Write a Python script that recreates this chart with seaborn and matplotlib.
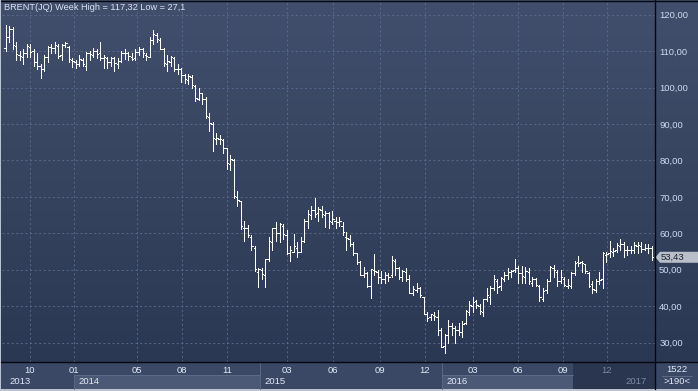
import matplotlib
matplotlib.use("Agg")
import numpy as np
import pandas as pd
import matplotlib.pyplot as plt
import seaborn as sns
from matplotlib.colors import LinearSegmentedColormap
from matplotlib.patches import Rectangle, Polygon

# ---------------- data (weekly OHLC) ----------------
title = "BRENT(JQ) Week High = 117,32 Low = 27,1"

opens = [
    110.8, 114.0, 116.0, 111.5, 109.0, 108.5, 109.5, 111.0, 110.0, 107.0, 106.0, 105.0, 108.5, 111.0, 110.8, 111.5, 109.0, 111.8,
    111.0, 107.5, 107.0, 106.5, 107.5, 106.0, 109.5, 109.0, 110.0, 109.5, 108.0, 108.0, 107.0, 108.0, 106.5, 107.3, 109.5, 109.5,
    108.5, 108.0, 109.8, 110.5, 109.0, 108.5, 113.0, 114.5, 113.0, 110.5, 106.5, 107.0, 108.0, 105.0, 105.0, 103.5, 102.0, 103.0,
    100.5, 97.0, 98.4, 97.0, 92.0, 90.0, 86.0, 86.0, 85.5, 83.5, 79.0, 80.0, 70.0, 68.8, 61.5, 61.5,
    59.0, 56.0, 49.5, 50.0, 48.5, 53.0, 57.5, 61.5, 60.0, 62.0, 59.5, 54.5, 55.0, 56.0, 55.0, 58.0, 63.5, 65.0, 66.5, 65.5,
    66.5, 65.0, 65.5, 63.0, 63.5, 63.0, 62.0, 59.0, 58.5, 57.0, 54.5, 52.0, 48.5, 49.0, 45.5, 50.0, 49.5, 48.0, 47.5, 48.5,
    48.5, 52.5, 50.5, 48.0, 49.5, 47.5, 43.5, 44.5, 45.0, 42.5, 38.0, 37.0,
    37.5, 37.0, 33.5, 29.0, 32.0, 34.5, 34.0, 33.5, 33.0, 35.5, 38.5, 40.0, 41.5, 40.0, 38.5, 42.0, 42.5, 45.0, 47.0, 45.5,
    47.5, 48.5, 49.5, 50.0, 50.5, 49.0, 48.0, 49.5, 46.5, 47.5, 45.5, 42.0, 44.5, 47.0, 50.5, 49.5, 47.0, 47.5, 45.5, 45.5,
    49.0, 52.0, 52.0, 51.5, 49.0, 46.0, 44.5, 47.0, 47.5, 54.0, 54.5, 55.0, 55.5,
    56.5, 57.0, 55.5, 55.5, 55.5, 56.5, 56.5, 55.8, 56.0, 56.0,
]
highs = [
    117.3, 117.0, 116.5, 112.5, 110.0, 110.5, 112.0, 112.0, 110.5, 109.5, 106.5, 109.0, 111.5, 112.0, 112.5, 112.0, 112.0, 112.5,
    111.3, 108.0, 107.5, 109.0, 108.2, 109.7, 110.0, 110.8, 110.5, 112.4, 109.0, 108.5, 108.5, 108.5, 108.0, 110.0, 110.5, 109.8,
    109.5, 110.5, 111.0, 110.8, 109.5, 114.0, 115.7, 115.0, 113.5, 110.8, 109.0, 108.7, 108.5, 106.5, 105.5, 103.7, 103.8, 103.5,
    100.8, 99.8, 98.5, 97.5, 93.0, 90.5, 87.5, 87.0, 86.0, 83.5, 81.5, 80.5, 71.5, 69.0, 63.5, 62.3,
    59.5, 56.5, 50.5, 50.5, 53.0, 59.0, 61.5, 63.0, 62.8, 62.5, 60.8, 56.5, 59.7, 57.5, 59.0, 64.0, 66.3, 67.5, 69.6, 67.2,
    67.5, 66.0, 65.9, 66.0, 64.5, 64.6, 63.2, 60.5, 59.5, 57.5, 54.5, 52.5, 50.8, 49.5, 50.3, 54.2, 50.0, 49.8, 49.5, 49.0,
    53.8, 53.0, 50.8, 50.0, 50.5, 48.5, 45.5, 46.5, 45.3, 42.6, 38.5, 38.0,
    38.5, 38.9, 34.0, 32.5, 36.2, 35.5, 34.5, 35.5, 36.0, 39.0, 41.5, 42.5, 41.8, 40.5, 42.0, 45.0, 45.5, 48.5, 47.5, 48.0,
    49.5, 50.5, 50.0, 52.9, 51.0, 51.0, 50.8, 50.5, 48.0, 47.8, 45.8, 45.0, 47.5, 51.0, 51.2, 50.0, 49.9, 48.0, 47.5, 49.5,
    52.5, 53.7, 52.5, 51.5, 49.5, 47.0, 47.5, 49.5, 54.8, 55.0, 57.9, 56.0, 57.3,
    58.4, 57.5, 56.5, 56.5, 57.5, 57.5, 57.5, 57.0, 57.0, 56.5,
]
lows = [
    110.0, 112.5, 110.5, 107.5, 107.5, 106.5, 108.5, 108.5, 106.0, 105.0, 102.7, 104.5, 107.0, 109.5, 109.5, 108.0, 107.5, 111.0,
    107.0, 105.6, 105.5, 106.0, 105.8, 104.9, 107.5, 108.5, 108.0, 107.5, 105.5, 105.5, 106.0, 104.5, 105.5, 107.0, 107.8, 107.5,
    107.5, 107.5, 109.0, 108.5, 107.7, 108.5, 112.0, 112.5, 110.5, 106.0, 104.5, 106.0, 104.5, 103.8, 101.5, 101.3, 101.0, 100.0,
    96.2, 96.5, 95.5, 91.6, 88.1, 82.6, 84.5, 84.5, 82.0, 77.7, 77.5, 69.8, 67.5, 61.2, 57.8, 59.0,
    55.5, 49.7, 45.2, 47.5, 45.2, 52.5, 55.5, 58.0, 57.5, 58.5, 54.3, 52.5, 55.0, 53.5, 54.8, 57.5, 61.5, 64.0, 64.5, 63.5,
    64.5, 61.8, 61.5, 62.5, 61.5, 62.0, 59.5, 55.5, 56.5, 54.0, 51.5, 48.5, 48.0, 45.2, 42.2, 48.5, 46.5, 46.5, 46.5, 47.0,
    48.0, 48.5, 47.5, 47.0, 47.0, 43.5, 43.0, 44.0, 42.5, 37.8, 36.0, 36.1,
    36.3, 32.2, 28.8, 27.1, 30.0, 32.0, 30.0, 32.0, 31.5, 35.0, 37.5, 38.5, 39.5, 38.0, 37.2, 41.5, 40.5, 44.5, 43.5, 44.5,
    47.0, 47.5, 48.0, 49.5, 46.5, 46.5, 46.5, 46.0, 45.5, 45.5, 41.5, 41.5, 43.5, 46.8, 48.0, 45.5, 46.5, 45.5, 45.0, 45.0,
    48.5, 51.0, 49.5, 49.0, 45.3, 43.5, 43.8, 46.0, 45.0, 52.0, 53.5, 53.8, 55.0,
    55.5, 53.6, 54.0, 54.5, 54.5, 54.7, 55.0, 55.5, 54.5, 52.8,
]
closes = [
    114.0, 116.1, 111.7, 109.2, 108.6, 109.5, 111.3, 109.9, 106.9, 105.9, 105.1, 108.5, 111.1, 110.8, 111.6, 108.8, 111.8, 112.2,
    107.9, 107.3, 106.5, 107.9, 106.4, 109.6, 109.1, 110.1, 109.1, 108.1, 108.4, 106.9, 108.1, 106.7, 107.3, 109.5, 109.6, 108.6,
    107.9, 109.8, 110.5, 109.4, 108.6, 113.0, 114.8, 113.3, 110.6, 106.7, 107.2, 108.4, 105.0, 105.0, 103.5, 102.3, 103.2, 100.8,
    97.1, 98.4, 97.0, 92.3, 90.2, 86.2, 86.1, 85.9, 83.4, 79.4, 80.4, 70.2, 69.1, 61.9, 61.4, 59.5,
    56.4, 50.1, 50.2, 48.8, 53.0, 57.8, 61.5, 60.2, 62.6, 59.7, 54.7, 55.3, 56.4, 54.95, 57.9, 63.5, 65.3, 66.5, 65.4, 66.8,
    65.4, 65.6, 63.3, 63.9, 63.0, 63.3, 60.3, 58.7, 57.1, 54.6, 52.2, 48.6, 49.2, 45.5, 50.1, 49.6, 48.1, 47.5, 48.6, 48.1,
    52.7, 50.5, 48.0, 49.6, 47.4, 43.6, 44.7, 44.9, 43.0, 37.9, 36.9, 37.9,
    37.3, 33.6, 28.9, 32.2, 34.7, 34.1, 33.4, 33.0, 35.1, 38.7, 40.4, 41.2, 40.4, 38.7, 41.9, 43.1, 45.1, 47.4, 45.4, 47.8,
    48.7, 49.3, 49.6, 50.5, 49.2, 48.4, 49.7, 46.8, 47.6, 45.7, 42.5, 44.3, 47.0, 50.9, 49.9, 46.8, 48.0, 45.8, 45.9, 49.1,
    51.9, 51.95, 51.8, 49.7, 45.6, 44.75, 46.9, 47.2, 54.5, 54.3, 55.2, 55.2, 56.8,
    57.1, 55.45, 55.5, 55.5, 56.8, 56.7, 55.8, 56.0, 55.9, 53.43,
]
price_ticks = [30, 40, 50, 60, 70, 80, 90, 100, 110, 120]
month_labels = ["10", "01", "05", "08", "11", "03", "06", "09", "12", "03", "06", "09", "12"]
year_labels = ["2013", "2014", "2015", "2016", "2017"]
last_price_label = "53,43"
bars_total_label = "1522"
bars_visible_label = ">190<"

# ---------------- layout (pixels) ----------------
W, H = 698, 391
PX0, STEP = 5.5, 3.513          # pixel of first bar, pixels per bar
Y120, PPU = 14.7, 3.644         # pixel of price 120, pixels per price unit
month_px = [30, 74, 137, 182, 227, 287, 333, 380, 425, 473, 518, 563, 607]
year_px = [9, 78, 264, 446, 625]

sns.set_theme(style="dark")
plt.rcParams["font.family"] = ["Liberation Sans", "DejaVu Sans"]

fig = plt.figure(figsize=(W / 100, H / 100), dpi=100, facecolor="#bcc3cd")


def fbox(x0, y0, x1, y1):
    return [x0 / W, 1 - y1 / H, (x1 - x0) / W, (y1 - y0) / H]


# gradient background of chart + right scale
bg = fig.add_axes(fbox(1, 0, 698, 362), zorder=0)
cmap = LinearSegmentedColormap.from_list("bg", ["#414f6d", "#37445f", "#2b3853"])
bg.imshow(np.linspace(0, 1, 256).reshape(-1, 1), cmap=cmap, aspect="auto", extent=(0, 1, 0, 1))
bg.set_axis_off()

# main price axes
ax = fig.add_axes(fbox(2, 2, 655, 362), zorder=1)
ax.patch.set_alpha(0)
ax.set_xlim((2 - PX0) / STEP, (655 - PX0) / STEP)
ax.set_ylim(120 - (362 - Y120) / PPU, 120 + (Y120 - 2) / PPU)

rows = []
for i, (o, h, l, c) in enumerate(zip(opens, highs, lows, closes)):
    rows += [(3 * i, i, l), (3 * i, i, h),
             (3 * i + 1, i - 0.4, o), (3 * i + 1, i, o),
             (3 * i + 2, i, c), (3 * i + 2, i + 0.4, c)]
df = pd.DataFrame(rows, columns=["seg", "x", "y"])
sns.lineplot(data=df, x="x", y="y", units="seg", estimator=None, sort=False,
             color="white", linewidth=0.55, legend=False, ax=ax, antialiased=False)

ax.set_xticks([(p - PX0) / STEP for p in month_px])
ax.set_yticks(price_ticks)
ax.set_yticklabels([f"{v},00" for v in price_ticks])
ax.yaxis.tick_right()
ax.tick_params(axis="y", length=0, pad=3, labelsize=6.8, labelcolor="#cfdaee")
ax.tick_params(axis="x", length=0, labelbottom=False)
ax.grid(True, color="#5d6d8d", linestyle=(0, (2.5, 3)), linewidth=0.6)
ax.set_xlabel("")
ax.set_ylabel("")
for s in ax.spines.values():
    s.set_visible(False)

# overlay for panels, separators and texts
ov = fig.add_axes([0, 0, 1, 1], zorder=2)
ov.set_xlim(0, W)
ov.set_ylim(H, 0)
ov.set_axis_off()
ov.patch.set_alpha(0)

ov.add_patch(Rectangle((1, 362), 697, 27, color="#3a4866", lw=0))
for x0, x1 in [(74, 260), (442, 573)]:
    ov.add_patch(Rectangle((x0, 375), x1 - x0, 14, color="#4b5977", lw=0))
    ov.plot([x0, x1], [375, 375], color="#5d6b88", lw=0.7)
ov.add_patch(Rectangle((573, 362), 82, 27, color="#28324b", alpha=0.85, lw=0))
for xs in [260, 442]:
    ov.plot([xs, xs], [362, 389], color="#5a6885", lw=0.7)
ov.plot([74, 74], [375, 389], color="#5a6885", lw=0.7)

for lab, p in zip(month_labels, month_px):
    col = "#7c889e" if p > 573 else "#e2e8f4"
    ov.text(p, 370.5, lab, ha="center", va="center", fontsize=6.8, color=col)
for lab, p in zip(year_labels, year_px):
    col = "#7c889e" if p > 573 else "#e2e8f4"
    ov.text(p, 381.5, lab, ha="left", va="center", fontsize=6.8, color=col)

ov.text(677, 370, bars_total_label, ha="center", va="center", fontsize=6.8, color="#e2e8f4")
ov.plot([662, 692], [376, 376], color="#5d6b88", lw=0.7)
ov.text(677, 382, bars_visible_label, ha="center", va="center", fontsize=6.8, color="#e2e8f4")

# separators
ov.plot([1, 698], [362, 362], color="#05080f", lw=1.0)
ov.plot([655, 655], [0, 389], color="#05080f", lw=1.0)
ov.plot([1, 698], [0.5, 0.5], color="#05080f", lw=1.0)

# last price marker
yl = Y120 + (120 - closes[-1]) * PPU
ov.add_patch(Polygon([(655.5, yl), (660, yl - 5.5), (698, yl - 5.5), (698, yl + 5.5), (660, yl + 5.5)],
                     closed=True, color="#b9bfc9", lw=0))
ov.text(660.5, yl + 0.3, last_price_label, ha="left", va="center", fontsize=6.8, color="#1c2230")

# title
ov.text(4, 7.5, title, ha="left", va="center", fontsize=6.6, color="#dbe3f2")

fig.savefig("out.png", dpi=100, facecolor=fig.get_facecolor())
